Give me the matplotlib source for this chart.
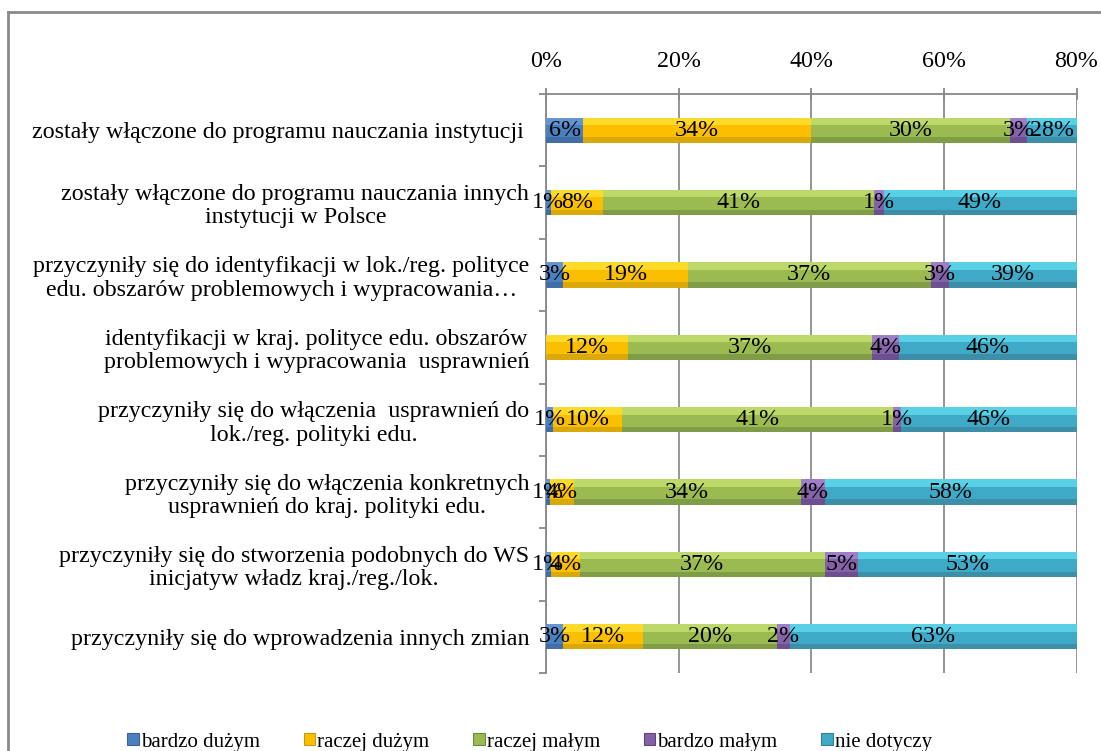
import matplotlib
matplotlib.use("Agg")
import matplotlib.pyplot as plt
from matplotlib.patches import Patch
from matplotlib.lines import Line2D
import numpy as np

plt.rcParams['font.family'] = ['Liberation Serif', 'DejaVu Serif']

categories = [
    "zostały włączone do programu nauczania instytucji ",
    "zostały włączone do programu nauczania innych\ninstytucji w Polsce",
    "przyczyniły się do identyfikacji w lok./reg. polityce\nedu. obszarów problemowych i wypracowania…",
    "identyfikacji w kraj. polityce edu. obszarów\nproblemowych i wypracowania  usprawnień",
    "przyczyniły się do włączenia  usprawnień do\nlok./reg. polityki edu.",
    "przyczyniły się do włączenia konkretnych\nusprawnień do kraj. polityki edu.",
    "przyczyniły się do stworzenia podobnych do WS\ninicjatyw władz kraj./reg./lok.",
    "przyczyniły się do wprowadzenia innych zmian",
]
series_names = ["bardzo dużym", "raczej dużym", "raczej małym", "bardzo małym", "nie dotyczy"]
bardzo_duzym = [5.6, 0.7, 2.6, 0.0, 1.1, 0.6, 0.7, 2.6]
raczej_duzym = [34.4, 7.9, 18.8, 12.3, 10.4, 3.6, 4.4, 12.1]
raczej_malym = [30.0, 40.9, 36.6, 36.8, 40.8, 34.2, 36.9, 20.1]
bardzo_malym = [2.6, 1.4, 2.8, 4.2, 1.3, 3.6, 5.1, 2.0]
nie_dotyczy = [27.6, 49.1, 39.2, 46.0, 46.1, 58.2, 52.9, 63.3]
xticks = [0, 20, 40, 60, 80]
xticklabels = ["0%", "20%", "40%", "60%", "80%"]

series = [bardzo_duzym, raczej_duzym, raczej_malym, bardzo_malym, nie_dotyczy]
mid = ["#4a7fc0", "#fbbf00", "#9bbb50", "#8462a8", "#3fa9c8"]
light = ["#7aa8e0", "#fff04a", "#d9f37e", "#b597dd", "#6ef2ff"]
dark = ["#3c6394", "#c79a10", "#6d8840", "#5e4580", "#3a7e92"]

FS = 17.3
W, H = 1101, 751
fig = plt.figure(figsize=(W / 100, H / 100), dpi=100)
ax = fig.add_axes([546 / W, 1 - 673 / H, (1076.5 - 546) / W, (673 - 94) / H])

XMAX = 80
y = np.arange(len(categories))
h = 0.35
left = np.zeros(len(categories))
for i, vals in enumerate(series):
    vals = np.array(vals)
    ax.barh(y, vals, left=left, height=h, color=mid[i], zorder=3)
    ax.barh(y - h / 2 + h * 0.15, vals, left=left, height=h * 0.3, color=light[i], zorder=3.1, alpha=0.55)
    ax.barh(y + h / 2 - h * 0.11, vals, left=left, height=h * 0.22, color=dark[i], zorder=3.1, alpha=0.6)
    for j, v in enumerate(vals):
        if v <= 0:
            continue
        a = left[j]
        b = min(left[j] + v, XMAX)
        ax.text((a + b) / 2, y[j], f"{int(round(v))}%", ha="center", va="center",
                fontsize=FS, color="black", zorder=5)
    left = left + vals

ax.set_xlim(0, XMAX)
ax.set_ylim(len(categories) - 0.5, -0.5)
ax.xaxis.tick_top()
ax.set_xticks(xticks)
ax.set_xticklabels(xticklabels, fontsize=FS)
ax.tick_params(axis="x", direction="inout", length=8, width=1.3, color="#888888", pad=12)
ax.set_yticks(y)
ax.set_yticklabels(categories, fontsize=FS, multialignment="center", linespacing=1.15)
ax.tick_params(axis="y", which="major", length=0, pad=12)
ax.set_yticks(np.arange(-0.5, len(categories) + 0.5, 1), minor=True)
ax.tick_params(axis="y", which="minor", direction="out", length=5, width=1.3, color="#888888")
ax.grid(axis="x", color="#8c8c8c", linewidth=1.3, zorder=0)
for s in ["right", "bottom"]:
    ax.spines[s].set_visible(False)
for s in ["top", "left"]:
    ax.spines[s].set_color("#888888")
    ax.spines[s].set_linewidth(1.3)

handles = [Patch(facecolor=mid[i], edgecolor=dark[i], linewidth=0.8) for i in range(5)]
fig.legend(handles, series_names, loc="center", bbox_to_anchor=(0.481, 1 - 742 / H), ncol=5,
           frameon=False, fontsize=15, handlelength=0.55, handleheight=0.55, handletextpad=0.1,
           columnspacing=2.1, borderpad=0.1)

# chart border (top and left visible)
fig.add_artist(Line2D([8 / W, 8 / W], [0, 1 - 12 / H], color="#8a8a8a", linewidth=2))
fig.add_artist(Line2D([8 / W, 1], [1 - 12 / H, 1 - 12 / H], color="#8a8a8a", linewidth=2))

fig.savefig("out.png", dpi=100)
